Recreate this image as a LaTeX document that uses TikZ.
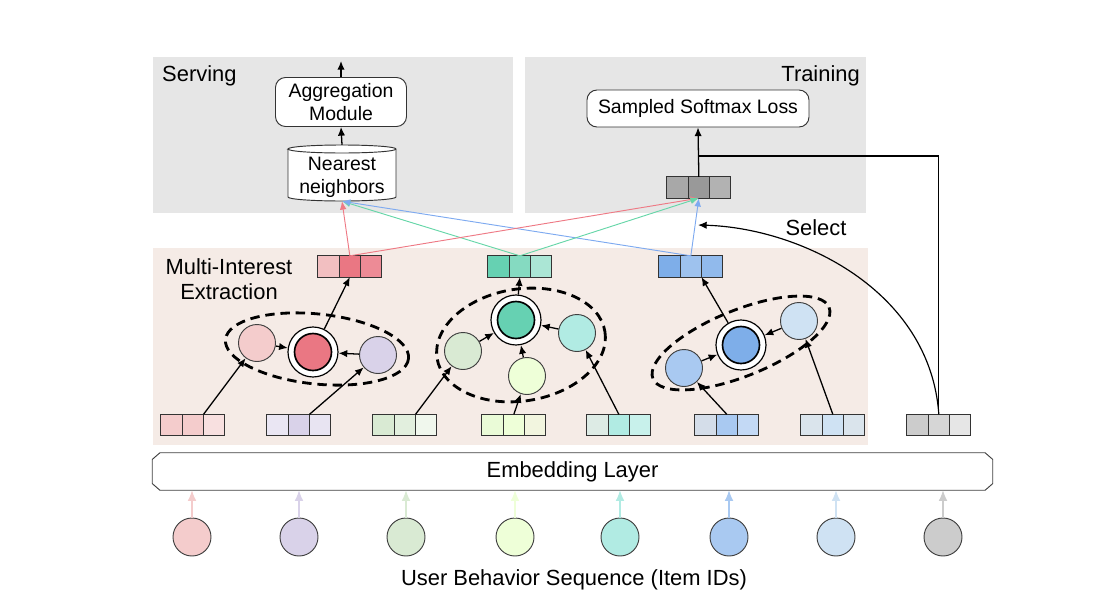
\documentclass[tikz,border=0pt]{standalone}
\usepackage{fontspec}
\setmainfont{Liberation Sans}
\usetikzlibrary{positioning,arrows.meta}
\definecolor{PanelGrey}{HTML}{E6E6E6}
\definecolor{PanelRose}{HTML}{F5EBE6}
\definecolor{pinkC}{HTML}{F4CCCC}
\definecolor{lilacC}{HTML}{D9D2E9}
\definecolor{sageC}{HTML}{D9EAD3}
\definecolor{limeC}{HTML}{EEFFD8}
\definecolor{tealC}{HTML}{B1EBE3}
\definecolor{blueC}{HTML}{A9C9F1}
\definecolor{skyC}{HTML}{CFE2F3}
\definecolor{greyC}{HTML}{CCCCCC}
\definecolor{redM}{HTML}{EA7783}
\definecolor{greenM}{HTML}{66D1B2}
\definecolor{blueM}{HTML}{7EAEE9}
\definecolor{redL}{HTML}{EE7A85}
\definecolor{greenL}{HTML}{66D6A8}
\definecolor{blueL}{HTML}{7EAAF0}

\begin{document}
\begin{tikzpicture}[x=0.03cm,y=-0.03cm,
    arr/.style={-{Latex[length=2.6mm,width=2.2mm]},line width=1.1pt},
    link/.style={-{Latex[length=2.5mm,width=2mm]},line width=0.8pt},
    feed/.style={-{Latex[length=3.2mm,width=2.6mm]},line width=0.9pt},
    cell/.style={draw=black!80,line width=0.9pt,minimum width=0.64cm,minimum height=0.64cm,inner sep=0pt,outer sep=0pt},
    dot/.style={circle,draw=black!75,line width=0.8pt,minimum size=1.11cm,inner sep=0pt},
    ring/.style={circle,draw=black,line width=1pt,fill=white,minimum size=1.5cm,inner sep=0pt},
    core/.style={circle,draw=black,line width=1.4pt,minimum size=1.11cm,inner sep=0pt},
    group/.style={line width=2.4pt,dash pattern=on 8pt off 5pt},
    box/.style={draw=black!80,fill=white,rounded corners=0.3cm,line width=0.8pt,align=center},
    big/.style={font=\fontsize{18.7}{21}\selectfont},
    small/.style={font=\fontsize{16.6}{19.5}\selectfont}]
  \useasboundingbox (0,0) rectangle (1094,614);

  \fill[PanelGrey] (153,57) rectangle (513,213);
  \fill[PanelGrey] (525,57) rectangle (866,213);
  \fill[PanelRose] (153,248) rectangle (868,445);

  \node[big,anchor=west,inner sep=0pt] (serve) at (162,76) {Serving};
  \node[big,anchor=east,inner sep=0pt] (train) at (860,76) {Training};
  \node[big,align=center] (mie) at (229,279) {Multi-Interest\\Extraction};
  \node[big] (sel) at (816,228) {Select};

  \node[box,small,minimum width=3.93cm,minimum height=1.47cm] (ag) at (341,102) {Aggregation\\Module};
  \draw[fill=white,draw=black!80,line width=0.8pt] (288,149) -- (288,197)
    arc[start angle=180,end angle=360,x radius=1.62cm,y radius=0.12cm] -- (396,149)
    arc[start angle=0,end angle=180,x radius=1.62cm,y radius=0.12cm] -- cycle;
  \draw[draw=black!80,line width=0.8pt] (288,149) arc[start angle=180,end angle=360,x radius=1.62cm,y radius=0.12cm];
  \node[small,align=center,minimum width=3.24cm,minimum height=1.44cm,inner sep=0pt] (nn) at (342,177) {Nearest\\neighbors};
  \node[box,small,minimum width=6.66cm,minimum height=1.11cm] (loss) at (698,108.5) {Sampled Softmax Loss};
  \coordinate (out) at (341,61);
  \draw[arr] (ag.north) -- (out);
  \draw[arr] ([yshift=0.24cm]nn.north) -- (ag.south);

  \node[cell,fill=black!34] (tv1) at (677.5,187.5) {};
  \node[cell,fill=black!40,right=0pt of tv1] (tv2) {};
  \node[cell,fill=black!30,right=0pt of tv2] (tv3) {};
  \draw[arr] (tv2.north) -- (loss.south);

  \draw[group,rotate around={-6:(317,349)}] (317,349) ellipse [x radius=92, y radius=35];
  \draw[group,rotate around={9:(521,345)}] (521,345) ellipse [x radius=85, y radius=56];
  \draw[group,rotate around={22:(741,343)}] (741,343) ellipse [x radius=95, y radius=33];

  \node[cell,fill=pinkC!85!redM] (rv1) at (328.5,266.5) {};
  \node[cell,fill=redM,right=0pt of rv1] (rv2) {};
  \node[cell,fill=redM!85!white,right=0pt of rv2] (rv3) {};
  \node[cell,fill=greenM] (gv1) at (498.5,266.5) {};
  \node[cell,fill=greenM!80!white,right=0pt of gv1] (gv2) {};
  \node[cell,fill=greenM!55!white,right=0pt of gv2] (gv3) {};
  \node[cell,fill=blueM] (bv1) at (669.5,266.5) {};
  \node[cell,fill=blueM!75!white,right=0pt of bv1] (bv2) {};
  \node[cell,fill=blueM!85!white,right=0pt of bv2] (bv3) {};

  \node[dot,fill=pinkC] (rp) at (257,343) {};
  \node[ring] (rc) at (313,352) {};
  \node[core,fill=redM] (rcin) at (rc) {};
  \node[dot,fill=lilacC] (rl) at (378,355) {};

  \node[dot,fill=sageC] (gl) at (463,351) {};
  \node[ring] (gc) at (516,320) {};
  \node[core,fill=greenM] (gcin) at (gc) {};
  \node[dot,fill=limeC] (gy) at (527,376) {};
  \node[dot,fill=tealC] (gt) at (577,333) {};

  \node[dot,fill=blueC] (bl) at (684,368) {};
  \node[ring] (bc) at (741,345) {};
  \node[core,fill=blueM] (bcin) at (bc) {};
  \node[dot,fill=skyC] (br) at (799,321) {};

  \node[cell,fill=pinkC] (ri1) at (171.5,425) {};
  \node[cell,fill=pinkC,right=0pt of ri1] (ri2) {};
  \node[cell,fill=pinkC!60!white,right=0pt of ri2] (ri3) {};
  \node[cell,fill=lilacC!55!white] (pi1) at (277.5,425) {};
  \node[cell,fill=lilacC,right=0pt of pi1] (pi2) {};
  \node[cell,fill=lilacC!60!white,right=0pt of pi2] (pi3) {};
  \node[cell,fill=sageC] (gi1) at (383.5,425) {};
  \node[cell,fill=sageC!75!white,right=0pt of gi1] (gi2) {};
  \node[cell,fill=sageC!40!white,right=0pt of gi2] (gi3) {};
  \node[cell,fill=limeC!80!sageC] (yi1) at (492.5,425) {};
  \node[cell,fill=limeC,right=0pt of yi1] (yi2) {};
  \node[cell,fill=limeC!50!PanelRose,right=0pt of yi2] (yi3) {};
  \node[cell,fill=tealC!35!PanelRose] (ti1) at (597.5,425) {};
  \node[cell,fill=tealC,right=0pt of ti1] (ti2) {};
  \node[cell,fill=tealC!70!white,right=0pt of ti2] (ti3) {};
  \node[cell,fill=blueC!30!PanelGrey] (bi1) at (705.5,425) {};
  \node[cell,fill=blueC,right=0pt of bi1] (bi2) {};
  \node[cell,fill=blueC!70!white,right=0pt of bi2] (bi3) {};
  \node[cell,fill=skyC!50!PanelGrey] (li1) at (811.5,425) {};
  \node[cell,fill=skyC,right=0pt of li1] (li2) {};
  \node[cell,fill=skyC!50!PanelGrey,right=0pt of li2] (li3) {};
  \node[cell,fill=greyC] (ki1) at (917.5,425) {};
  \node[cell,fill=black!16,right=0pt of ki1] (ki2) {};
  \node[cell,fill=PanelGrey,right=0pt of ki2] (ki3) {};

  \draw[link,draw=redL] (rv2.north) -- (nn.south);
  \draw[link,draw=greenL] (gv2.north) -- (nn.south);
  \draw[link,draw=blueL] (bv2.north) -- (nn.south);
  \draw[link,draw=redL] (rv2.north) -- (tv2.south);
  \draw[link,draw=greenL] (gv2.north) -- (tv2.south);
  \draw[link,draw=blueL] (bv2.north) -- (tv2.south);

  \draw[arr] (rp) -- (rc);
  \draw[arr] (rl) -- (rc);
  \draw[arr] (rc) -- (rv2.south);
  \draw[arr] (gl) -- (gc);
  \draw[arr] (gy) -- (gc);
  \draw[arr] (gt) -- (gc);
  \draw[arr] (gc) -- (gv2.south);
  \draw[arr] (bl) -- (bc);
  \draw[arr] (br) -- (bc);
  \draw[arr] (bc) -- (bv2.south east);

  \draw[arr] (ri2.north east) -- (rp);
  \draw[arr] (pi2.north east) -- (rl);
  \draw[arr] (gi2.north east) -- (gl);
  \draw[arr] (yi2.north) -- (gy);
  \draw[arr] (ti2.north) -- (gt);
  \draw[arr] (bi2.north) -- (bl);
  \draw[arr] (li2.north) -- (br);

  \coordinate (tj) at (698,156);
  \coordinate (pick) at (698,225);
  \draw[line width=1pt] (ki2.north) |- (tj);
  \draw[arr,line width=1pt] (ki2.north) .. controls (930,290) and (800,228) .. (pick);

  \node[minimum width=25.2cm,minimum height=1.11cm,inner sep=0pt,big] (emb) at (572.5,471.5) {Embedding Layer};
  \draw[draw=black!75,line width=0.8pt]
    ([xshift=0.23cm]emb.north west) -- ([xshift=-0.23cm]emb.north east) -- ([yshift=-0.2cm]emb.north east)
    -- ([yshift=0.2cm]emb.south east) -- ([xshift=-0.23cm]emb.south east) -- ([xshift=0.23cm]emb.south west)
    -- ([yshift=0.2cm]emb.south west) -- ([yshift=-0.2cm]emb.north west) -- cycle;
  \node[big] (ubs) at (574,580) {User Behavior Sequence (Item IDs)};

  \foreach \i/\x/\c in {1/192/pinkC,2/299/lilacC,3/406/sageC,4/515/limeC,5/620/tealC,6/729/blueC,7/836/skyC,8/943/greyC}{
    \node[dot,fill=\c,minimum size=1.14cm] (u\i) at (\x,537) {};
    \draw[feed,draw=\c] (u\i.north) -- (u\i |- emb.south);
  }
\end{tikzpicture}
\end{document}
